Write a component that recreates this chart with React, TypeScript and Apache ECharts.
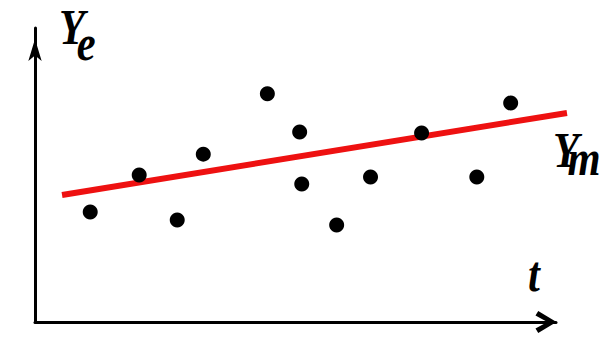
import React, { useEffect, useRef } from "react";
import * as echarts from "echarts";

const tValues = [1.06, 2.0, 2.73, 3.23, 4.46, 5.08, 5.12, 5.79, 6.44, 7.42, 8.48, 9.13];
const yeValues = [3.74, 5.0, 3.47, 5.71, 7.76, 6.46, 4.69, 3.3, 4.93, 6.43, 4.93, 7.45];
const fitT = [0.52, 10.23];
const fitY = [4.32, 7.11];

const serif = "'Liberation Serif', 'DejaVu Serif', serif";
const FS = 50;
const SX = 0.85;

export default function App() {
  const ref = useRef<HTMLDivElement>(null);
  useEffect(() => {
    if (!ref.current) return;
    const chart = echarts.init(ref.current, null, { renderer: "svg" });
    const base = {
      fontFamily: serif,
      fontStyle: "italic",
      fontWeight: "bold",
      fontSize: FS,
      fill: "#000",
    };
    const sub = (
      main: string,
      s: string,
      x: number,
      y: number,
      w: number,
      h: number,
      lh: number
    ) => ({
      type: "text",
      x,
      y,
      scaleX: SX,
      style: {
        ...base,
        text: `{a|${main}}{b|${s}}`,
        align: "left",
        verticalAlign: "top",
        rich: {
          a: { ...base, width: w, height: h, lineHeight: h, verticalAlign: "top" },
          b: { ...base, lineHeight: lh, verticalAlign: "bottom" },
        },
      },
    });
    const hiddenAxis = {
      type: "value",
      show: false,
      axisLine: { show: false },
      axisTick: { show: false },
      axisLabel: { show: false },
      splitLine: { show: false },
    };
    chart.setOption({
      animation: false,
      backgroundColor: "#fff",
      grid: [
        { left: 35, right: 45, top: 28, bottom: 18 },
        { left: 35, right: 34, top: 28, bottom: 18 },
      ],
      xAxis: [
        {
          type: "value",
          gridIndex: 0,
          min: 0,
          max: 10,
          axisLine: {
            onZero: false,
            symbol: ["none", "path://M12,0 L24,20 L19,23 L12,10 L5,23 L0,20 Z"],
            symbolSize: [25, 21],
            symbolOffset: [0, -10],
            lineStyle: { color: "#000", width: 3 },
          },
          axisTick: { show: false },
          axisLabel: { show: false },
          splitLine: { show: false },
        },
        { ...hiddenAxis, gridIndex: 1, min: 0, max: 10.23 },
      ],
      yAxis: [
        {
          type: "value",
          gridIndex: 0,
          min: 0,
          max: 10,
          axisLine: {
            show: true,
            onZero: false,
            symbol: ["none", "arrow"],
            symbolSize: [10, 22],
            symbolOffset: [0, -11],
            lineStyle: { color: "#000", width: 3 },
          },
          axisTick: { show: false },
          axisLabel: { show: false },
          splitLine: { show: false },
        },
        { ...hiddenAxis, gridIndex: 1, min: 0, max: 10 },
      ],
      series: [
        {
          type: "line",
          xAxisIndex: 1,
          yAxisIndex: 1,
          data: fitT.map((t, i) => [t, fitY[i]]),
          showSymbol: false,
          symbol: "none",
          lineStyle: { color: "#ee1111", width: 6 },
          z: 2,
        },
        {
          type: "scatter",
          xAxisIndex: 0,
          yAxisIndex: 0,
          data: tValues.map((t, i) => [t, yeValues[i]]),
          symbolSize: 15,
          itemStyle: { color: "#000", opacity: 1 },
          z: 3,
        },
      ],
      graphic: [
        sub("Y", "e", 59, 8, 21, 38, 60),
        sub("Y", "m", 553, 125, 17, 50, 58),
        {
          type: "text",
          x: 528,
          y: 274,
          scaleX: SX,
          style: { ...base, text: "t", align: "left", verticalAlign: "middle" },
        },
      ],
    });
    return () => chart.dispose();
  }, []);
  return (
    <div
      ref={ref}
      style={{ position: "fixed", left: 0, top: 0, width: 601, height: 340 }}
    />
  );
}
